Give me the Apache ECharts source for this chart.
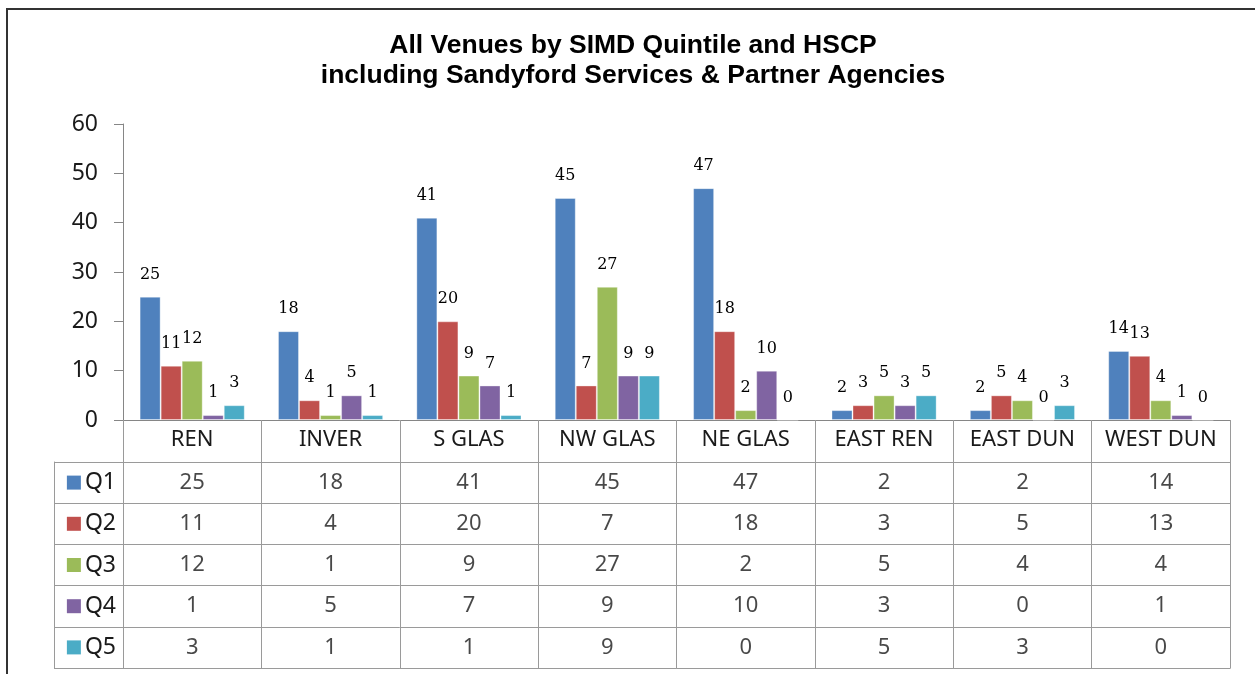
<!DOCTYPE html>
<html>
<head>
<meta charset="utf-8">
<title>All Venues by SIMD Quintile and HSCP</title>
<script src="https://cdn.jsdelivr.net/npm/echarts@6/dist/echarts.min.js"></script>
<style>
  html, body { margin: 0; padding: 0; background: #fff; }
  #chart { width: 1255px; height: 674px; }
</style>
</head>
<body>
<div id="chart"></div>
<script>
// data
var categories = ['REN', 'INVER', 'S GLAS', 'NW GLAS', 'NE GLAS', 'EAST REN', 'EAST DUN', 'WEST DUN'];
var quintiles = ['Q1', 'Q2', 'Q3', 'Q4', 'Q5'];
var q1 = [25, 18, 41, 45, 47, 2, 2, 14];
var q2 = [11, 4, 20, 7, 18, 3, 5, 13];
var q3 = [12, 1, 9, 27, 2, 5, 4, 4];
var q4 = [1, 5, 7, 9, 10, 3, 0, 1];
var q5 = [3, 1, 1, 9, 0, 5, 3, 0];
var yMin = 0, yMax = 60, yStep = 10;

var values = [q1, q2, q3, q4, q5];
var colors = ['#4F81BD', '#C0504D', '#9BBB59', '#8064A2', '#4BACC6'];
var lineGrey = '#9a9a9a';
var sans = '"Noto Sans", sans-serif';

var myChart = echarts.init(document.getElementById('chart'));

// rich styles for the little colour keys in the table
var rich = { t: { fontFamily: sans, fontSize: 23, color: '#1a1a1a', padding: [0, 0, 0, 4] } };
quintiles.forEach(function (q, i) {
    rich['k' + i] = { width: 14, height: 14, backgroundColor: colors[i] };
});

var series = quintiles.map(function (q, i) {
    return {
        name: q,
        type: 'bar',
        xAxisIndex: 0,
        yAxisIndex: 0,
        data: values[i],
        barGap: '0%',
        barCategoryGap: '24%',
        itemStyle: { color: colors[i], borderColor: 'rgba(255,255,255,0.35)', borderWidth: 1 },
        label: {
            show: true,
            position: 'top',
            distance: 14,
            fontFamily: '"DejaVu Serif", serif',
            fontSize: 16,
            color: '#000'
        }
    };
});

// table cells
var cells = [];
quintiles.forEach(function (q, i) {
    categories.forEach(function (c, j) {
        cells.push([c, q, values[i][j]]);
    });
});
series.push({
    type: 'scatter',
    xAxisIndex: 1,
    yAxisIndex: 1,
    symbolSize: 0,
    data: cells,
    label: {
        show: true,
        position: 'inside',
        formatter: function (p) { return p.value[2]; },
        fontFamily: sans,
        fontSize: 22,
        color: '#1a1a1a'
    }
});

var option = {
    animation: false,
    title: {
        text: 'All Venues by SIMD Quintile and HSCP\nincluding Sandyford Services & Partner Agencies',
        left: 633,
        top: 31,
        padding: 0,
        textAlign: 'center',
        textStyle: {
            fontFamily: '"Liberation Sans", Arial, sans-serif',
            fontWeight: 'bold',
            fontSize: 26.5,
            lineHeight: 30,
            color: '#000'
        }
    },
    graphic: [{
        type: 'rect',
        shape: { x: 7, y: 9, width: 1400, height: 800 },
        style: { fill: null, stroke: '#333', lineWidth: 2 },
        silent: true
    }],
    grid: [
        { left: 123, top: 124, width: 1107, height: 296 },
        { left: 123, top: 462, width: 1107, height: 206 }
    ],
    xAxis: [
        {
            gridIndex: 0,
            type: 'category',
            data: categories,
            axisLine: { lineStyle: { color: '#868686' } },
            axisTick: { show: true, interval: 0, length: 42, lineStyle: { color: lineGrey } },
            axisLabel: { interval: 0, margin: 9, fontFamily: sans, fontSize: 22, color: '#1a1a1a' },
            splitLine: { show: false }
        },
        {
            gridIndex: 1,
            type: 'category',
            data: categories,
            position: 'top',
            axisLine: { show: true, lineStyle: { color: lineGrey } },
            axisTick: { show: false },
            axisLabel: { show: false },
            splitLine: { show: true, interval: 0, lineStyle: { color: lineGrey } }
        },
        {
            gridIndex: 1,
            type: 'category',
            data: categories,
            position: 'bottom',
            axisLine: { show: true, lineStyle: { color: lineGrey } },
            axisTick: { show: false },
            axisLabel: { show: false }
        }
    ],
    yAxis: [
        {
            gridIndex: 0,
            type: 'value',
            min: yMin,
            max: yMax,
            interval: yStep,
            axisLine: { show: true, lineStyle: { color: '#868686' } },
            axisTick: { show: true, length: 9, lineStyle: { color: '#868686' } },
            axisLabel: { margin: 25, fontFamily: sans, fontSize: 23, color: '#1a1a1a' },
            splitLine: { show: false }
        },
        {
            gridIndex: 1,
            type: 'category',
            data: quintiles,
            inverse: true,
            axisLine: { show: true, lineStyle: { color: lineGrey } },
            axisTick: { show: true, interval: 0, length: 69, lineStyle: { color: lineGrey } },
            axisLabel: {
                margin: 7,
                formatter: function (v, idx) { return '{k' + idx + '|}{t|' + v + '}'; },
                rich: rich
            },
            splitLine: { show: true, interval: 0, lineStyle: { color: lineGrey } }
        },
        {
            gridIndex: 1,
            type: 'category',
            data: quintiles,
            position: 'left',
            offset: 69,
            axisLine: { show: true, lineStyle: { color: lineGrey } },
            axisTick: { show: false },
            axisLabel: { show: false }
        },
        {
            gridIndex: 1,
            type: 'category',
            data: quintiles,
            position: 'right',
            axisLine: { show: true, lineStyle: { color: lineGrey } },
            axisTick: { show: false },
            axisLabel: { show: false }
        }
    ],
    series: series
};

myChart.setOption(option);
</script>
</body>
</html>
